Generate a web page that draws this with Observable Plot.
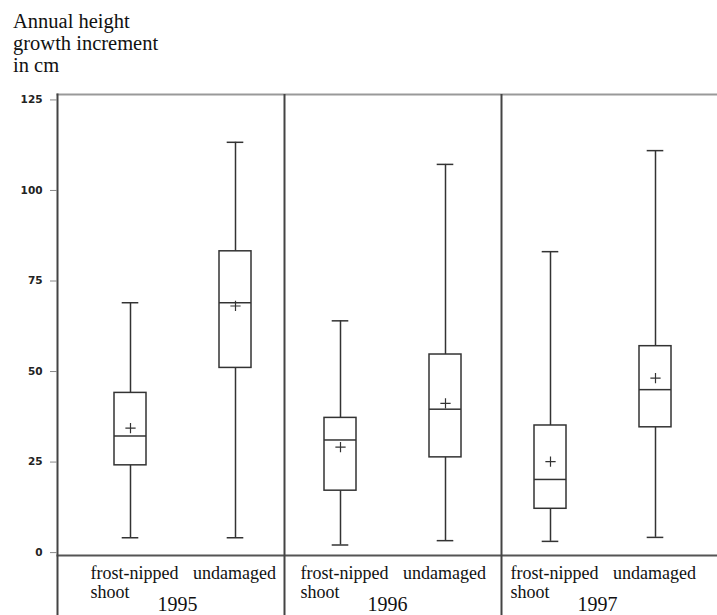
<!DOCTYPE html>
<html>
<head>
<meta charset="utf-8">
<script src="https://cdn.jsdelivr.net/npm/d3@7"></script>
<script src="https://cdn.jsdelivr.net/npm/@observablehq/plot@0.6"></script>
<style>
  body { margin: 0; background: white; }
  #title { font-family: "Liberation Serif", serif; font-size: 20.5px; line-height: 22px;
           padding: 10px 0 0 13px; height: 70px; color: #111; }
  #chart g[aria-label="y-axis tick label"] { font-weight: bold; font-family: "DejaVu Sans", sans-serif; }
</style>
</head>
<body>
<div id="title">Annual height<br>growth increment<br>in cm</div>
<div id="chart"></div>
<script>
const years = ["1995", "1996", "1997"];
const groups = ["frost-nipped", "undamaged"];
const groupSecondLine = ["shoot", ""];
// order: 1995 frost, 1995 undamaged, 1996 frost, 1996 undamaged, 1997 frost, 1997 undamaged
const whiskerLow  = [4.1, 4.1, 2.1, 3.3, 3.1, 4.2];
const q1          = [24.1, 51.0, 17.1, 26.3, 12.1, 34.6];
const median      = [32.2, 69.0, 31.1, 39.6, 20.2, 45.0];
const q3          = [44.1, 83.2, 37.2, 54.7, 35.1, 57.0];
const whiskerHigh = [69.0, 113.3, 64.0, 107.2, 83.1, 111.0];
const mean        = [34.4, 68.1, 29.1, 41.2, 25.1, 48.2];
const yTicks = [0, 25, 50, 75, 100, 125];

const data = [];
years.forEach((yr, i) => groups.forEach((g, j) => {
  const k = i * groups.length + j;
  data.push({year: yr, group: g, key: yr + " " + g,
    lo: whiskerLow[k], q1: q1[k], median: median[k], q3: q3[k], hi: whiskerHigh[k], mean: mean[k]});
}));
const keys = data.map(d => d.key);
const frost = data.filter(d => d.group === groups[0]);
const undamaged = data.filter(d => d.group === groups[1]);

const ink = "#333";
const serif = "Liberation Serif";

const chart = Plot.plot({
  width: 717,
  height: 535,
  marginLeft: 57,
  marginRight: 0,
  marginTop: 14,
  marginBottom: 60,
  style: {background: "white", color: "#222", overflow: "visible"},
  x: {type: "band", domain: keys, paddingInner: 0.7, paddingOuter: 0.35, insetLeft: 20, insetRight: 9.6, axis: null},
  y: {domain: [-0.8, 126.5], axis: null},
  marks: [
    Plot.frame({anchor: "top", stroke: "#999", strokeWidth: 2}),
    Plot.frame({anchor: "bottom", stroke: "#555", strokeWidth: 2}),
    Plot.frame({anchor: "left", stroke: "#444", strokeWidth: 2, insetBottom: -60}),
    Plot.ruleX([keys[1]], {x: d => d, dx: 49, stroke: "#444", strokeWidth: 2, insetBottom: -60}),
    Plot.ruleX([keys[3]], {x: d => d, dx: 56, stroke: "#444", strokeWidth: 2, insetBottom: -60}),
    Plot.axisY({ticks: yTicks, tickSize: 7, tickPadding: 8, label: null,
      fontFamily: "DejaVu Sans", fontWeight: "bold", fontSize: 10.5, stroke: "#888", fill: "#222"}),
    Plot.ruleX(data, {x: "key", y1: "lo", y2: "q1", stroke: ink, strokeWidth: 1.5}),
    Plot.ruleX(data, {x: "key", y1: "q3", y2: "hi", stroke: ink, strokeWidth: 1.5}),
    Plot.barY(data, {x: "key", y1: "q1", y2: "q3", fill: "white", stroke: ink, strokeWidth: 1.5}),
    Plot.tickY(data, {x: "key", y: "median", stroke: ink, strokeWidth: 1.5}),
    Plot.tickY(data, {x: "key", y: "lo", stroke: ink, strokeWidth: 1.5, insetLeft: 7.7, insetRight: 7.7}),
    Plot.tickY(data, {x: "key", y: "hi", stroke: ink, strokeWidth: 1.5, insetLeft: 7.7, insetRight: 7.7}),
    Plot.dot(data, {x: "key", y: "mean", symbol: "plus", r: 3.4, stroke: ink, strokeWidth: 1.2}),
    Plot.text(frost, {x: "key", text: "group", frameAnchor: "bottom", lineAnchor: "bottom", dy: 23, dx: -40,
      textAnchor: "start", fontFamily: serif, fontSize: 18, fill: "#111"}),
    Plot.text(frost, {x: "key", text: () => groupSecondLine[0], frameAnchor: "bottom", lineAnchor: "bottom", dy: 42, dx: -40,
      textAnchor: "start", fontFamily: serif, fontSize: 18, fill: "#111"}),
    Plot.text(undamaged, {x: "key", text: "group", frameAnchor: "bottom", lineAnchor: "bottom", dy: 23, dx: -1,
      textAnchor: "middle", fontFamily: serif, fontSize: 18, fill: "#111"}),
    Plot.text(frost, {x: "key", text: "year", frameAnchor: "bottom", lineAnchor: "bottom", dy: 55, dx: 47,
      textAnchor: "middle", fontFamily: serif, fontSize: 20, fill: "#111"})
  ]
});
document.getElementById("chart").appendChild(chart);
</script>
</body>
</html>
